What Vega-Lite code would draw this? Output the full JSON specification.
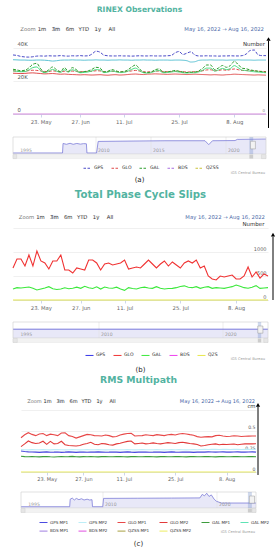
{
"$schema":"https://vega.github.io/schema/vega-lite/v6.json",
"background":"white",
"padding":{"left":10,"top":0,"right":0,"bottom":0},
"spacing":0,
"bounds":"flush",
"config":{"view":{"stroke":null},"font":"DejaVu Sans","concat":{"spacing":0},"axis":{"labelOverlap":false,"labelFlush":false}},
"resolve":{"scale":{"x":"independent","y":"independent","color":"independent","strokeDash":"independent"},"legend":{"color":"independent","strokeDash":"independent"}},
"datasets":{
"btn":[{"b":"Zoom"},{"b":"1m"},{"b":"3m"},{"b":"6m"},{"b":"YTD"},{"b":"1y"},{"b":"All"}],
"z":[{"d":"2022-05-16","v":0},{"d":"2022-08-16","v":0}],
"tkA":[{"y":1995},{"y":2010},{"y":2015},{"y":2020}],
"tkB":[{"y":1995},{"y":2010},{"y":2020}],
"navA":[{"y":1994,"v":0.06},{"y":2003.55,"v":0.06},{"y":2003.65,"v":0.62},{"y":2004.3,"v":0.57},{"y":2005,"v":0.63},{"y":2005.6,"v":0.57},{"y":2006.3,"v":0.62},{"y":2007,"v":0.58},{"y":2007.6,"v":0.61},{"y":2008.15,"v":0.6},{"y":2008.25,"v":0.06},{"y":2010.05,"v":0.06},{"y":2010.2,"v":0.74},{"y":2013,"v":0.76},{"y":2016,"v":0.78},{"y":2018.6,"v":0.78},{"y":2018.85,"v":0.55},{"y":2019.1,"v":0.78},{"y":2020.6,"v":0.79},{"y":2020.75,"v":0.86},{"y":2022.65,"v":0.88}],
"navB":[{"y":1994,"v":0.55},{"y":2022.65,"v":0.55}],
"navC":[{"y":1994,"v":0.08},{"y":2003.5,"v":0.08},{"y":2003.6,"v":0.55},{"y":2004,"v":0.62},{"y":2004.4,"v":0.5},{"y":2004.8,"v":0.6},{"y":2005.3,"v":0.52},{"y":2005.8,"v":0.58},{"y":2006.3,"v":0.5},{"y":2006.9,"v":0.55},{"y":2007.4,"v":0.5},{"y":2007.85,"v":0.52},{"y":2007.95,"v":0.08},{"y":2009.95,"v":0.08},{"y":2010.05,"v":0.6},{"y":2013,"v":0.61},{"y":2016,"v":0.62},{"y":2018.5,"v":0.63},{"y":2018.7,"v":0.85},{"y":2018.9,"v":0.76},{"y":2019.1,"v":0.92},{"y":2019.3,"v":0.72},{"y":2019.5,"v":0.82},{"y":2019.75,"v":0.55},{"y":2019.95,"v":0.42},{"y":2020.3,"v":0.31},{"y":2022.65,"v":0.31}],
"t":[
{"d":"2022-05-16","aP":35.9,"aQ":33.0,"aR":26.3,"aS":24.8,"aG":27.2,"aH":26.2,"bR":667,"bG":229,"cU":0.415,"cL":0.307,"cC":0.272,"cB":0.254,"cE":0.19},
{"d":"2022-05-17","aP":35.6,"aQ":32.9,"aR":26.0,"aS":24.7,"aG":26.8,"aH":26.0,"bR":854,"bG":257,"cU":0.45,"cL":0.34,"cC":0.27,"cB":0.248,"cE":0.186},
{"d":"2022-05-18","aP":35.0,"aQ":32.8,"aR":25.8,"aS":24.6,"aG":26.3,"aH":25.7,"bR":854,"bG":250,"cU":0.475,"cL":0.375,"cC":0.268,"cB":0.244,"cE":0.184},
{"d":"2022-05-19","aP":34.7,"aQ":32.8,"aR":26.0,"aS":24.7,"aG":26.6,"aH":25.8,"bR":708,"bG":260,"cU":0.455,"cL":0.355,"cC":0.271,"cB":0.242,"cE":0.187},
{"d":"2022-05-20","aP":34.6,"aQ":32.7,"aR":26.4,"aS":24.9,"aG":28.0,"aH":26.8,"bR":938,"bG":271,"cU":0.44,"cL":0.345,"cC":0.27,"cB":0.24,"cE":0.185},
{"d":"2022-05-21","aP":34.8,"aQ":32.7,"aR":26.6,"aS":25.0,"aG":30.2,"aH":28.2,"bR":708,"bG":243,"cU":0.46,"cL":0.35,"cC":0.269,"cB":0.238,"cE":0.183},
{"d":"2022-05-22","aP":35.2,"aQ":32.8,"aR":26.5,"aS":24.8,"aG":30.8,"aH":28.6,"bR":1021,"bG":208,"cU":0.465,"cL":0.372,"cC":0.272,"cB":0.241,"cE":0.186},
{"d":"2022-05-23","aP":35.3,"aQ":32.8,"aR":26.2,"aS":24.6,"aG":27.5,"aH":26.4,"bR":813,"bG":230,"cU":0.44,"cL":0.335,"cC":0.27,"cB":0.243,"cE":0.188},
{"d":"2022-05-24","aP":35.2,"aQ":32.7,"aR":25.9,"aS":24.4,"aG":25.5,"aH":25.1,"bR":771,"bG":250,"cU":0.458,"cL":0.37,"cC":0.268,"cB":0.239,"cE":0.184},
{"d":"2022-05-25","aP":35.4,"aQ":32.5,"aR":25.8,"aS":24.5,"aG":26.8,"aH":26.0,"bR":646,"bG":278,"cU":0.45,"cL":0.34,"cC":0.271,"cB":0.24,"cE":0.182},
{"d":"2022-05-26","aP":35.3,"aQ":32.2,"aR":26.2,"aS":24.6,"aG":28.6,"aH":27.1,"bR":813,"bG":235,"cU":0.44,"cL":0.345,"cC":0.273,"cB":0.242,"cE":0.185},
{"d":"2022-05-27","aP":35.3,"aQ":32.4,"aR":26.0,"aS":24.4,"aG":27.0,"aH":26.1,"bR":813,"bG":218,"cU":0.472,"cL":0.372,"cC":0.27,"cB":0.238,"cE":0.187},
{"d":"2022-06-19","aP":35.5,"aQ":32.7,"aR":25.7,"aS":24.2,"aG":25.8,"aH":25.3,"bR":938,"bG":230,"cU":0.475,"cL":0.33,"cC":0.268,"cB":0.24,"cE":0.184},
{"d":"2022-06-21","aP":35.3,"aQ":32.8,"aR":26.0,"aS":24.3,"aG":28.2,"aH":26.9,"bR":625,"bG":255,"cU":0.44,"cL":0.32,"cC":0.27,"cB":0.243,"cE":0.186},
{"d":"2022-06-23","aP":35.2,"aQ":32.8,"aR":25.8,"aS":24.1,"aG":26.0,"aH":25.5,"bR":625,"bG":235,"cU":0.43,"cL":0.318,"cC":0.272,"cB":0.241,"cE":0.189},
{"d":"2022-06-24","aP":35.4,"aQ":32.9,"aR":26.1,"aS":24.0,"aG":28.2,"aH":26.9,"bR":563,"bG":245,"cU":0.41,"cL":0.315,"cC":0.27,"cB":0.238,"cE":0.185},
{"d":"2022-06-25","aP":35.3,"aQ":32.8,"aR":25.9,"aS":23.9,"aG":27.0,"aH":26.1,"bR":667,"bG":268,"cU":0.425,"cL":0.32,"cC":0.268,"cB":0.24,"cE":0.183},
{"d":"2022-06-27","aP":35.5,"aQ":32.8,"aR":25.6,"aS":23.8,"aG":25.5,"aH":25.1,"bR":646,"bG":243,"cU":0.44,"cL":0.335,"cC":0.27,"cB":0.242,"cE":0.186},
{"d":"2022-06-28","aP":35.3,"aQ":32.7,"aR":25.8,"aS":23.9,"aG":25.8,"aH":25.3,"bR":625,"bG":285,"cU":0.455,"cL":0.345,"cC":0.271,"cB":0.239,"cE":0.184},
{"d":"2022-06-29","aP":35.4,"aQ":32.8,"aR":25.9,"aS":23.8,"aG":26.2,"aH":25.6,"bR":833,"bG":255,"cU":0.45,"cL":0.36,"cC":0.269,"cB":0.241,"cE":0.187},
{"d":"2022-06-30","aP":36.5,"aQ":32.8,"aR":26.0,"aS":23.7,"aG":27.2,"aH":26.2,"bR":833,"bG":240,"cU":0.44,"cL":0.335,"cC":0.27,"cB":0.24,"cE":0.185},
{"d":"2022-07-02","aP":38.2,"aQ":32.9,"aR":26.3,"aS":23.8,"aG":28.4,"aH":27.0,"bR":771,"bG":275,"cU":0.438,"cL":0.33,"cC":0.272,"cB":0.243,"cE":0.183},
{"d":"2022-07-03","aP":37.6,"aQ":32.8,"aR":26.2,"aS":23.9,"aG":28.0,"aH":26.8,"bR":625,"bG":229,"cU":0.435,"cL":0.345,"cC":0.27,"cB":0.241,"cE":0.186},
{"d":"2022-07-04","aP":35.8,"aQ":32.8,"aR":25.7,"aS":23.7,"aG":25.6,"aH":25.2,"bR":750,"bG":270,"cU":0.448,"cL":0.34,"cC":0.268,"cB":0.239,"cE":0.188},
{"d":"2022-07-06","aP":35.4,"aQ":32.7,"aR":25.8,"aS":23.6,"aG":26.0,"aH":25.5,"bR":771,"bG":250,"cU":0.44,"cL":0.33,"cC":0.27,"cB":0.24,"cE":0.185},
{"d":"2022-07-07","aP":35.3,"aQ":32.8,"aR":26.0,"aS":23.8,"aG":27.0,"aH":26.1,"bR":729,"bG":245,"cU":0.425,"cL":0.325,"cC":0.271,"cB":0.242,"cE":0.184},
{"d":"2022-07-08","aP":35.3,"aQ":32.8,"aR":25.8,"aS":23.9,"aG":26.3,"aH":25.7,"bR":750,"bG":268,"cU":0.43,"cL":0.34,"cC":0.27,"cB":0.24,"cE":0.186},
{"d":"2022-07-10","aP":35.4,"aQ":32.9,"aR":25.6,"aS":23.7,"aG":25.6,"aH":25.2,"bR":771,"bG":230,"cU":0.448,"cL":0.348,"cC":0.269,"cB":0.238,"cE":0.187},
{"d":"2022-07-11","aP":35.3,"aQ":32.8,"aR":25.7,"aS":23.8,"aG":25.8,"aH":25.3,"bR":833,"bG":201,"cU":0.458,"cL":0.36,"cC":0.27,"cB":0.241,"cE":0.185},
{"d":"2022-07-12","aP":35.3,"aQ":32.8,"aR":25.9,"aS":24.0,"aG":26.8,"aH":26.0,"bR":646,"bG":257,"cU":0.465,"cL":0.37,"cC":0.272,"cB":0.243,"cE":0.183},
{"d":"2022-07-13","aP":35.2,"aQ":32.7,"aR":26.2,"aS":24.2,"aG":28.5,"aH":27.1,"bR":667,"bG":240,"cU":0.468,"cL":0.375,"cC":0.27,"cB":0.24,"cE":0.186},
{"d":"2022-07-14","aP":35.3,"aQ":32.8,"aR":26.5,"aS":24.3,"aG":29.8,"aH":27.9,"bR":688,"bG":229,"cU":0.435,"cL":0.34,"cC":0.268,"cB":0.238,"cE":0.188},
{"d":"2022-07-15","aP":35.4,"aQ":32.8,"aR":26.1,"aS":24.1,"aG":27.5,"aH":26.4,"bR":667,"bG":255,"cU":0.438,"cL":0.345,"cC":0.27,"cB":0.24,"cE":0.185},
{"d":"2022-07-16","aP":35.3,"aQ":32.9,"aR":25.7,"aS":24.0,"aG":25.4,"aH":25.1,"bR":750,"bG":268,"cU":0.44,"cL":0.35,"cC":0.271,"cB":0.242,"cE":0.184},
{"d":"2022-07-17","aP":35.3,"aQ":32.8,"aR":25.6,"aS":24.2,"aG":25.2,"aH":24.9,"bR":833,"bG":250,"cU":0.45,"cL":0.34,"cC":0.27,"cB":0.241,"cE":0.186},
{"d":"2022-07-18","aP":35.4,"aQ":32.8,"aR":25.7,"aS":24.3,"aG":25.6,"aH":25.2,"bR":750,"bG":243,"cU":0.445,"cL":0.345,"cC":0.269,"cB":0.239,"cE":0.187},
{"d":"2022-07-19","aP":35.3,"aQ":32.7,"aR":26.0,"aS":24.4,"aG":27.0,"aH":26.1,"bR":667,"bG":278,"cU":0.44,"cL":0.352,"cC":0.27,"cB":0.24,"cE":0.185},
{"d":"2022-07-20","aP":35.3,"aQ":32.8,"aR":26.2,"aS":24.3,"aG":27.4,"aH":26.4,"bR":750,"bG":245,"cU":0.452,"cL":0.345,"cC":0.272,"cB":0.242,"cE":0.183},
{"d":"2022-07-21","aP":35.3,"aQ":32.8,"aR":25.8,"aS":24.2,"aG":25.5,"aH":25.1,"bR":813,"bG":229,"cU":0.446,"cL":0.34,"cC":0.27,"cB":0.24,"cE":0.186},
{"d":"2022-07-22","aP":35.4,"aQ":32.8,"aR":25.7,"aS":24.1,"aG":25.6,"aH":25.2,"bR":708,"bG":240,"cU":0.44,"cL":0.348,"cC":0.268,"cB":0.238,"cE":0.188},
{"d":"2022-07-23","aP":35.6,"aQ":32.7,"aR":25.8,"aS":24.2,"aG":26.0,"aH":25.5,"bR":792,"bG":243,"cU":0.45,"cL":0.355,"cC":0.27,"cB":0.241,"cE":0.185},
{"d":"2022-07-24","aP":37.2,"aQ":32.8,"aR":26.0,"aS":24.3,"aG":26.5,"aH":25.8,"bR":729,"bG":257,"cU":0.455,"cL":0.35,"cC":0.271,"cB":0.243,"cE":0.184},
{"d":"2022-07-25","aP":38.0,"aQ":32.8,"aR":25.9,"aS":24.2,"aG":26.0,"aH":25.5,"bR":667,"bG":280,"cU":0.448,"cL":0.345,"cC":0.27,"cB":0.24,"cE":0.186},
{"d":"2022-07-26","aP":36.2,"aQ":32.7,"aR":25.7,"aS":24.1,"aG":25.5,"aH":25.1,"bR":771,"bG":295,"cU":0.46,"cL":0.355,"cC":0.272,"cB":0.239,"cE":0.187},
{"d":"2022-07-27","aP":37.0,"aQ":32.4,"aR":25.5,"aS":24.0,"aG":25.2,"aH":24.9,"bR":813,"bG":265,"cU":0.465,"cL":0.36,"cC":0.27,"cB":0.241,"cE":0.185},
{"d":"2022-07-28","aP":37.8,"aQ":31.6,"aR":25.6,"aS":24.1,"aG":25.4,"aH":25.1,"bR":771,"bG":257,"cU":0.46,"cL":0.352,"cC":0.268,"cB":0.242,"cE":0.183},
{"d":"2022-07-29","aP":35.9,"aQ":31.8,"aR":25.7,"aS":24.2,"aG":25.5,"aH":25.1,"bR":833,"bG":278,"cU":0.452,"cL":0.345,"cC":0.27,"cB":0.24,"cE":0.186},
{"d":"2022-07-30","aP":35.3,"aQ":32.6,"aR":25.9,"aS":24.1,"aG":26.2,"aH":25.6,"bR":667,"bG":243,"cU":0.445,"cL":0.34,"cC":0.271,"cB":0.238,"cE":0.188},
{"d":"2022-07-31","aP":35.3,"aQ":32.8,"aR":26.3,"aS":24.0,"aG":27.8,"aH":26.6,"bR":708,"bG":265,"cU":0.428,"cL":0.332,"cC":0.27,"cB":0.24,"cE":0.185},
{"d":"2022-08-01","aP":35.4,"aQ":32.8,"aR":26.8,"aS":23.9,"aG":29.8,"aH":27.9,"bR":500,"bG":278,"cU":0.42,"cL":0.315,"cC":0.272,"cB":0.242,"cE":0.184},
{"d":"2022-08-02","aP":35.3,"aQ":32.9,"aR":26.9,"aS":23.8,"aG":29.8,"aH":27.9,"bR":438,"bG":243,"cU":0.425,"cL":0.32,"cC":0.274,"cB":0.241,"cE":0.186},
{"d":"2022-08-03","aP":35.3,"aQ":32.8,"aR":26.3,"aS":23.9,"aG":27.0,"aH":26.1,"bR":417,"bG":257,"cU":0.428,"cL":0.33,"cC":0.273,"cB":0.243,"cE":0.187},
{"d":"2022-08-04","aP":35.2,"aQ":32.8,"aR":26.5,"aS":23.8,"aG":28.0,"aH":26.8,"bR":500,"bG":250,"cU":0.425,"cL":0.335,"cC":0.275,"cB":0.242,"cE":0.185},
{"d":"2022-08-05","aP":35.3,"aQ":32.8,"aR":26.9,"aS":23.7,"aG":29.5,"aH":27.7,"bR":479,"bG":243,"cU":0.44,"cL":0.34,"cC":0.274,"cB":0.24,"cE":0.183},
{"d":"2022-08-06","aP":35.3,"aQ":32.7,"aR":26.6,"aS":23.9,"aG":28.4,"aH":27.0,"bR":500,"bG":260,"cU":0.445,"cL":0.33,"cC":0.273,"cB":0.242,"cE":0.186},
{"d":"2022-08-07","aP":35.4,"aQ":32.8,"aR":27.0,"aS":24.0,"aG":29.5,"aH":27.7,"bR":521,"bG":278,"cU":0.435,"cL":0.335,"cC":0.275,"cB":0.243,"cE":0.188},
{"d":"2022-08-08","aP":35.3,"aQ":32.8,"aR":27.4,"aS":24.2,"aG":32.0,"aH":29.4,"bR":438,"bG":312,"cU":0.43,"cL":0.332,"cC":0.274,"cB":0.241,"cE":0.185},
{"d":"2022-08-09","aP":35.3,"aQ":32.9,"aR":26.9,"aS":24.1,"aG":30.0,"aH":28.1,"bR":438,"bG":285,"cU":0.432,"cL":0.335,"cC":0.273,"cB":0.24,"cE":0.184},
{"d":"2022-08-10","aP":35.5,"aQ":32.8,"aR":26.5,"aS":24.0,"aG":27.8,"aH":26.6,"bR":500,"bG":257,"cU":0.438,"cL":0.338,"cC":0.275,"cB":0.242,"cE":0.186},
{"d":"2022-08-11","aP":36.5,"aQ":32.8,"aR":26.4,"aS":23.9,"aG":27.5,"aH":26.4,"bR":688,"bG":245,"cU":0.435,"cL":0.33,"cC":0.274,"cB":0.243,"cE":0.187},
{"d":"2022-08-12","aP":38.6,"aQ":32.8,"aR":26.3,"aS":23.8,"aG":26.8,"aH":26.0,"bR":479,"bG":265,"cU":0.43,"cL":0.335,"cC":0.273,"cB":0.241,"cE":0.185},
{"d":"2022-08-13","aP":38.9,"aQ":32.7,"aR":26.2,"aS":23.7,"aG":26.4,"aH":25.7,"bR":583,"bG":299,"cU":0.432,"cL":0.34,"cC":0.275,"cB":0.24,"cE":0.184},
{"d":"2022-08-14","aP":36.0,"aQ":32.8,"aR":26.0,"aS":23.8,"aG":26.0,"aH":25.5,"bR":458,"bG":243,"cU":0.434,"cL":0.342,"cC":0.274,"cB":0.242,"cE":0.186},
{"d":"2022-08-15","aP":35.5,"aQ":32.8,"aR":25.9,"aS":23.7,"aG":25.7,"aH":25.3,"bR":542,"bG":250,"cU":0.436,"cL":0.34,"cC":0.273,"cB":0.243,"cE":0.187},
{"d":"2022-08-16","aP":35.5,"aQ":32.8,"aR":25.8,"aS":23.6,"aG":25.5,"aH":25.1,"bR":500,"bG":257,"cU":0.435,"cL":0.342,"cC":0.275,"cB":0.241,"cE":0.185}
]},
"vconcat":[
{"width":253,"height":40,"layer":[
 {"data":{"values":[{"t":"RINEX Observations"}]},"mark":{"type":"text","fontSize":7.6,"fontWeight":"bold","color":"#52b3a1","dy":-10},"encoding":{"text":{"field":"t"}}},
 {"data":{"name":"btn"},"transform":[{"filter":"datum.b != 'Zoom'"}],"mark":{"type":"point","shape":"M-0.65,-0.42L0.65,-0.42L0.65,0.42L-0.65,0.42Z","size":100,"filled":true,"opacity":1,"yOffset":9},"encoding":{"x":{"field":"b","type":"nominal","scale":{"type":"point","domain":["Zoom","1m","3m","6m","YTD","1y","All"],"range":[8,105.8]},"axis":null},"color":{"condition":{"test":"datum.b == '3m'","value":"#e6ebf5"},"value":"#f7f7f7"}}},
 {"data":{"name":"btn"},"mark":{"type":"text","fontSize":5.3,"dy":9},"encoding":{"x":{"field":"b","type":"nominal","scale":{"type":"point","domain":["Zoom","1m","3m","6m","YTD","1y","All"],"range":[8,105.8]},"axis":null},"text":{"field":"b"},"color":{"condition":{"test":"datum.b == 'Zoom'","value":"#777777"},"value":"#333333"}}},
 {"data":{"values":[{"t":"May 16, 2022  →  Aug 16, 2022"}]},"mark":{"type":"text","x":"width","dx":-2,"align":"right","fontSize":5.3,"color":"#4a69a8","dy":9},"encoding":{"text":{"field":"t"}}}
]},
{"width":253,"height":74,"resolve":{"scale":{"y":"independent"}},"layer":[
 {"data":{"name":"t"},"transform":[{"fold":["aQ","aP","aS","aR","aH","aG"],"as":["k","v"]}],"mark":{"type":"line","strokeWidth":1,"interpolate":"monotone"},"encoding":{
  "x":{"field":"d","type":"ordinal","scale":{"type":"point","padding":0},"axis":{"values":["2022-05-23","2022-06-27","2022-07-11","2022-07-25","2022-08-08"],"labelExpr":"utcFormat(toDate(datum.value), '%-d. %b')","title":null,"labelAngle":0,"labelFontSize":5.3,"labelColor":"#666","labelPadding":2,"tickSize":3,"tickColor":"#ccd6eb","domainColor":"#ccd6eb","domainWidth":0.6,"grid":false}},
  "y":{"field":"v","type":"quantitative","scale":{"domain":[0,45],"nice":false},"axis":{"values":[0,20,40],"labelExpr":"datum.value == 0 ? '0' : datum.value + 'K'","grid":true,"gridColor":"#e6e6e6","gridWidth":0.6,"domain":false,"ticks":false,"tickSize":0,"labelAlign":"left","labelBaseline":"bottom","labelPadding":-4,"labelOffset":-2,"labelFontSize":5.3,"labelColor":"#555","labelOverlap":false,"title":null}},
  "color":{"field":"k","type":"nominal","scale":{"domain":["aP","aQ","aR","aS","aG","aH","BDS"],"range":["#4b4bc8","#5ac2d4","#e04a4a","#e04a4a","#2e9e2e","#40de7c","#d58bdb"]},"legend":null},
  "strokeDash":{"field":"k","type":"nominal","scale":{"domain":["aP","aQ","aR","aS","aG","aH"],"range":[[3,1.5],[1,0],[3,1.5],[1,0],[3,1.5],[1,0]]},"legend":null}}},
 {"data":{"name":"z"},"mark":{"type":"line","strokeWidth":1.2},"encoding":{"x":{"field":"d","type":"ordinal","scale":{"type":"point","padding":0}},"y":{"field":"v","type":"quantitative","scale":{"domain":[0,45],"nice":false},"axis":null},"color":{"datum":"BDS"}}},
 {"data":{"values":[{"t":"Number"}]},"mark":{"type":"text","x":"width","dx":-1,"dy":2,"align":"right","baseline":"top","fontSize":5.5,"color":"#333"},"encoding":{"y":{"datum":45,"type":"quantitative","scale":{"domain":[0,45],"nice":false},"axis":null},"text":{"field":"t"}}},
 {"data":{"values":[{"t":"0"}]},"mark":{"type":"text","x":"width","dx":-1,"dy":-1.5,"align":"right","baseline":"bottom","fontSize":4,"color":"#888"},"encoding":{"y":{"datum":0,"type":"quantitative","scale":{"domain":[0,45],"nice":false},"axis":null},"text":{"field":"t"}}},
 {"data":{"values":[{}]},"mark":{"type":"rule","x":"width","xOffset":2.5,"color":"#000","strokeWidth":1,"clip":false},"encoding":{"y":{"datum":44.5,"type":"quantitative","scale":{"domain":[0,45],"nice":false},"axis":null},"y2":{"datum":-8.5}}},
 {"data":{"values":[{}]},"mark":{"type":"point","shape":"triangle-up","x":"width","xOffset":2.5,"yOffset":-1,"size":18,"filled":true,"color":"#000","opacity":1,"clip":false},"encoding":{"y":{"datum":45,"type":"quantitative","scale":{"domain":[0,45],"nice":false},"axis":null}}}
]},
{"width":253,"height":45,"layer":[
 {"data":{"name":"navA"},"mark":{"type":"area","color":"#e8e8f8","opacity":1},"encoding":{"x":{"field":"y","type":"quantitative","scale":{"type":"linear","domain":[1994,2010,2015,2020,2022.65],"range":[0,83,138,213,253],"nice":false,"zero":false},"axis":null},"y":{"field":"v","type":"quantitative","scale":{"domain":[-0.294,2.353],"nice":false,"zero":false},"axis":null},"y2":{"datum":0}}},
 {"data":{"name":"tkA"},"transform":[{"filter":"datum.y > 2000"}],"mark":{"type":"rule","color":"#e0e0e0","strokeWidth":0.6},"encoding":{"x":{"field":"y","type":"quantitative","scale":{"type":"linear","domain":[1994,2010,2015,2020,2022.65],"range":[0,83,138,213,253],"nice":false,"zero":false},"axis":null},"y":{"datum":0,"type":"quantitative","scale":{"domain":[-0.294,2.353],"nice":false,"zero":false},"axis":null},"y2":{"datum":1}}},
 {"data":{"name":"navA"},"mark":{"type":"line","color":"#7c7cd8","strokeWidth":0.8},"encoding":{"x":{"field":"y","type":"quantitative","scale":{"type":"linear","domain":[1994,2010,2015,2020,2022.65],"range":[0,83,138,213,253],"nice":false,"zero":false},"axis":null},"y":{"field":"v","type":"quantitative","scale":{"domain":[-0.294,2.353],"nice":false,"zero":false},"axis":null}}},
 {"data":{"name":"tkA"},"mark":{"type":"text","align":"left","baseline":"bottom","dx":2,"dy":-1.5,"fontSize":4.6,"color":"#999"},"encoding":{"x":{"field":"y","type":"quantitative","scale":{"type":"linear","domain":[1994,2010,2015,2020,2022.65],"range":[0,83,138,213,253],"nice":false,"zero":false},"axis":null},"y":{"datum":0,"type":"quantitative","scale":{"domain":[-0.294,2.353],"nice":false,"zero":false},"axis":null},"text":{"field":"y","type":"quantitative","format":"d"}}},
 {"data":{"values":[{}]},"mark":{"type":"rect","fill":"transparent","stroke":"#cccccc","strokeWidth":0.6},"encoding":{"x":{"datum":1994,"type":"quantitative","scale":{"type":"linear","domain":[1994,2010,2015,2020,2022.65],"range":[0,83,138,213,253],"nice":false,"zero":false},"axis":null},"x2":{"datum":2022.65},"y":{"datum":0,"type":"quantitative","scale":{"domain":[-0.294,2.353],"nice":false,"zero":false},"axis":null},"y2":{"datum":1}}},
 {"data":{"values":[{}]},"mark":{"type":"rect","color":"#6685c2","opacity":0.3},"encoding":{"x":{"datum":2021.55,"type":"quantitative","scale":{"type":"linear","domain":[1994,2010,2015,2020,2022.65],"range":[0,83,138,213,253],"nice":false,"zero":false},"axis":null},"x2":{"datum":2021.8},"y":{"datum":0,"type":"quantitative","scale":{"domain":[-0.294,2.353],"nice":false,"zero":false},"axis":null},"y2":{"datum":1}}},
 {"data":{"values":[{}]},"mark":{"type":"rect","fill":"#f2f2f2","stroke":"#e6e6e6","strokeWidth":0.5},"encoding":{"x":{"datum":1994,"type":"quantitative","scale":{"type":"linear","domain":[1994,2010,2015,2020,2022.65],"range":[0,83,138,213,253],"nice":false,"zero":false},"axis":null},"x2":{"datum":2022.65},"y":{"datum":-0.27,"type":"quantitative","scale":{"domain":[-0.294,2.353],"nice":false,"zero":false},"axis":null},"y2":{"datum":-0.03}}},
 {"data":{"values":[{}]},"mark":{"type":"rect","fill":"#cccccc"},"encoding":{"x":{"datum":2021.55,"type":"quantitative","scale":{"type":"linear","domain":[1994,2010,2015,2020,2022.65],"range":[0,83,138,213,253],"nice":false,"zero":false},"axis":null},"x2":{"datum":2021.8},"y":{"datum":-0.27,"type":"quantitative","scale":{"domain":[-0.294,2.353],"nice":false,"zero":false},"axis":null},"y2":{"datum":-0.03}}},
 {"data":{"values":[{}]},"mark":{"type":"rect","fill":"#e6e6e6","stroke":"#cccccc","strokeWidth":0.4},"encoding":{"x":{"datum":1994,"type":"quantitative","scale":{"type":"linear","domain":[1994,2010,2015,2020,2022.65],"range":[0,83,138,213,253],"nice":false,"zero":false},"axis":null},"x2":{"datum":1994.7},"y":{"datum":-0.27,"type":"quantitative","scale":{"domain":[-0.294,2.353],"nice":false,"zero":false},"axis":null},"y2":{"datum":-0.03}}},
 {"data":{"values":[{}]},"mark":{"type":"rect","fill":"#e6e6e6","stroke":"#cccccc","strokeWidth":0.4},"encoding":{"x":{"datum":2022.35,"type":"quantitative","scale":{"type":"linear","domain":[1994,2010,2015,2020,2022.65],"range":[0,83,138,213,253],"nice":false,"zero":false},"axis":null},"x2":{"datum":2022.65},"y":{"datum":-0.27,"type":"quantitative","scale":{"domain":[-0.294,2.353],"nice":false,"zero":false},"axis":null},"y2":{"datum":-0.03}}},
 {"data":{"values":[{}]},"mark":{"type":"rect","fill":"#f2f2f2","stroke":"#999999","strokeWidth":0.5},"encoding":{"x":{"datum":2021.62,"type":"quantitative","scale":{"type":"linear","domain":[1994,2010,2015,2020,2022.65],"range":[0,83,138,213,253],"nice":false,"zero":false},"axis":null},"x2":{"datum":2021.95},"y":{"datum":0.3,"type":"quantitative","scale":{"domain":[-0.294,2.353],"nice":false,"zero":false},"axis":null},"y2":{"datum":0.75}}}
]},
{"width":253,"height":27,"layer":[
 {"data":{"values":[]},"mark":{"type":"line","strokeDash":[2.5,1.5]},"encoding":{"color":{"field":"k","type":"nominal","scale":{"domain":["GPS","GLO","GAL","BDS","QZSS"],"range":["#4b4bc8","#e04a4a","#2e9e2e","#a86ee0","#c9c23a"]},"legend":{"orient":"none","legendX":70,"legendY":4.5,"direction":"horizontal","title":null,"symbolType":"stroke","symbolSize":64,"symbolStrokeWidth":1,"symbolDash":[2.5,1.5],"labelFontSize":4.6,"labelColor":"#333","labelOffset":2,"columnPadding":5,"padding":0}}}},
 {"data":{"values":[{"t":"IGS Central Bureau"}]},"mark":{"type":"text","x":"width","dx":-1,"align":"right","fontSize":3.6,"color":"#9a9a9a"},"encoding":{"text":{"field":"t"}}},
 {"data":{"values":[{"t":"(a)"}]},"mark":{"type":"text","fontSize":7,"color":"#222","dy":7.5},"encoding":{"text":{"field":"t"}}}
]},
{"width":255,"height":42,"layer":[
 {"data":{"values":[{"t":"Total Phase Cycle Slips"}]},"mark":{"type":"text","fontSize":10.2,"fontWeight":"bold","color":"#52b3a1","dy":-12},"encoding":{"text":{"field":"t"}}},
 {"data":{"name":"btn"},"transform":[{"filter":"datum.b != 'Zoom'"}],"mark":{"type":"point","shape":"M-0.65,-0.42L0.65,-0.42L0.65,0.42L-0.65,0.42Z","size":100,"filled":true,"opacity":1,"yOffset":10},"encoding":{"x":{"field":"b","type":"nominal","scale":{"type":"point","domain":["Zoom","1m","3m","6m","YTD","1y","All"],"range":[6.5,104]},"axis":null},"color":{"condition":{"test":"datum.b == '3m'","value":"#e6ebf5"},"value":"#f7f7f7"}}},
 {"data":{"name":"btn"},"mark":{"type":"text","fontSize":5.3,"dy":10},"encoding":{"x":{"field":"b","type":"nominal","scale":{"type":"point","domain":["Zoom","1m","3m","6m","YTD","1y","All"],"range":[6.5,104]},"axis":null},"text":{"field":"b"},"color":{"condition":{"test":"datum.b == 'Zoom'","value":"#777777"},"value":"#333333"}}},
 {"data":{"values":[{"t":"May 16, 2022  →  Aug 16, 2022"}]},"mark":{"type":"text","x":"width","dx":-3,"align":"right","fontSize":5.3,"color":"#4a69a8","dy":10},"encoding":{"text":{"field":"t"}}}
]},
{"width":255,"height":72,"resolve":{"scale":{"y":"independent"}},"layer":[
 {"data":{"name":"t"},"transform":[{"fold":["bG","bR"],"as":["k","v"]}],"mark":{"type":"line","strokeWidth":1.1},"encoding":{
  "x":{"field":"d","type":"ordinal","scale":{"type":"point","padding":0},"axis":{"values":["2022-05-23","2022-06-27","2022-07-11","2022-07-25","2022-08-08"],"labelExpr":"utcFormat(toDate(datum.value), '%-d. %b')","title":null,"labelAngle":0,"labelFontSize":5.3,"labelColor":"#666","labelPadding":2,"tickSize":3,"tickColor":"#ccd6eb","domainColor":"#ccd6eb","domainWidth":0.6,"grid":false}},
  "y":{"field":"v","type":"quantitative","scale":{"domain":[0,1500],"nice":false},"axis":{"orient":"right","values":[0,500,1000,1500],"labelExpr":"datum.value == 1500 ? '' : '' + datum.value","grid":true,"gridColor":"#e6e6e6","gridWidth":0.6,"domain":false,"ticks":false,"tickSize":0,"labelAlign":"right","labelBaseline":"bottom","labelPadding":-2,"labelOffset":-1,"labelFontSize":5,"labelColor":"#666","labelOverlap":false,"title":"Number","titleAngle":0,"titleAlign":"right","titleBaseline":"bottom","titleX":-4,"titleY":-2,"titleFontSize":5.5,"titleFontWeight":"normal","titleColor":"#333"}},
  "color":{"field":"k","type":"nominal","scale":{"domain":["bR","bG","QZS"],"range":["#f03232","#3be83b","#e8e84a"]},"legend":null}}},
 {"data":{"name":"z"},"mark":{"type":"line","strokeWidth":1.2},"encoding":{"x":{"field":"d","type":"ordinal","scale":{"type":"point","padding":0}},"y":{"field":"v","type":"quantitative","scale":{"domain":[0,1500],"nice":false},"axis":null},"color":{"datum":"QZS"}}},
 {"data":{"values":[{}]},"mark":{"type":"rule","x":"width","xOffset":5,"color":"#000","strokeWidth":1,"clip":false},"encoding":{"y":{"datum":1320,"type":"quantitative","scale":{"domain":[0,1500],"nice":false},"axis":null},"y2":{"datum":0}}},
 {"data":{"values":[{}]},"mark":{"type":"point","shape":"triangle-up","x":"width","xOffset":5,"yOffset":-1,"size":18,"filled":true,"color":"#000","opacity":1,"clip":false},"encoding":{"y":{"datum":1340,"type":"quantitative","scale":{"domain":[0,1500],"nice":false},"axis":null}}}
]},
{"width":255,"height":43,"layer":[
 {"data":{"name":"navB"},"mark":{"type":"area","color":"#e8e8f8","opacity":1},"encoding":{"x":{"field":"y","type":"quantitative","scale":{"type":"linear","domain":[1994,2010,2020,2022.65],"range":[0,86,210,255],"nice":false,"zero":false},"axis":null},"y":{"field":"v","type":"quantitative","scale":{"domain":[-0.3125,2.375],"nice":false,"zero":false},"axis":null},"y2":{"datum":0}}},
 {"data":{"name":"tkB"},"transform":[{"filter":"datum.y > 2000"}],"mark":{"type":"rule","color":"#e0e0e0","strokeWidth":0.6},"encoding":{"x":{"field":"y","type":"quantitative","scale":{"type":"linear","domain":[1994,2010,2020,2022.65],"range":[0,86,210,255],"nice":false,"zero":false},"axis":null},"y":{"datum":0,"type":"quantitative","scale":{"domain":[-0.3125,2.375],"nice":false,"zero":false},"axis":null},"y2":{"datum":1}}},
 {"data":{"name":"navB"},"mark":{"type":"line","color":"#6a6ad8","strokeWidth":0.9},"encoding":{"x":{"field":"y","type":"quantitative","scale":{"type":"linear","domain":[1994,2010,2020,2022.65],"range":[0,86,210,255],"nice":false,"zero":false},"axis":null},"y":{"field":"v","type":"quantitative","scale":{"domain":[-0.3125,2.375],"nice":false,"zero":false},"axis":null}}},
 {"data":{"name":"tkB"},"mark":{"type":"text","align":"left","baseline":"bottom","dx":2,"dy":-1.5,"fontSize":4.6,"color":"#999"},"encoding":{"x":{"field":"y","type":"quantitative","scale":{"type":"linear","domain":[1994,2010,2020,2022.65],"range":[0,86,210,255],"nice":false,"zero":false},"axis":null},"y":{"datum":0,"type":"quantitative","scale":{"domain":[-0.3125,2.375],"nice":false,"zero":false},"axis":null},"text":{"field":"y","type":"quantitative","format":"d"}}},
 {"data":{"values":[{}]},"mark":{"type":"rect","fill":"transparent","stroke":"#cccccc","strokeWidth":0.6},"encoding":{"x":{"datum":1994,"type":"quantitative","scale":{"type":"linear","domain":[1994,2010,2020,2022.65],"range":[0,86,210,255],"nice":false,"zero":false},"axis":null},"x2":{"datum":2022.65},"y":{"datum":0,"type":"quantitative","scale":{"domain":[-0.3125,2.375],"nice":false,"zero":false},"axis":null},"y2":{"datum":1}}},
 {"data":{"values":[{}]},"mark":{"type":"rect","color":"#6685c2","opacity":0.3},"encoding":{"x":{"datum":2022.05,"type":"quantitative","scale":{"type":"linear","domain":[1994,2010,2020,2022.65],"range":[0,86,210,255],"nice":false,"zero":false},"axis":null},"x2":{"datum":2022.25},"y":{"datum":0,"type":"quantitative","scale":{"domain":[-0.3125,2.375],"nice":false,"zero":false},"axis":null},"y2":{"datum":1}}},
 {"data":{"values":[{}]},"mark":{"type":"rect","fill":"#f2f2f2","stroke":"#e6e6e6","strokeWidth":0.5},"encoding":{"x":{"datum":1994,"type":"quantitative","scale":{"type":"linear","domain":[1994,2010,2020,2022.65],"range":[0,86,210,255],"nice":false,"zero":false},"axis":null},"x2":{"datum":2022.65},"y":{"datum":-0.28,"type":"quantitative","scale":{"domain":[-0.3125,2.375],"nice":false,"zero":false},"axis":null},"y2":{"datum":-0.03}}},
 {"data":{"values":[{}]},"mark":{"type":"rect","fill":"#cccccc"},"encoding":{"x":{"datum":2022.05,"type":"quantitative","scale":{"type":"linear","domain":[1994,2010,2020,2022.65],"range":[0,86,210,255],"nice":false,"zero":false},"axis":null},"x2":{"datum":2022.25},"y":{"datum":-0.28,"type":"quantitative","scale":{"domain":[-0.3125,2.375],"nice":false,"zero":false},"axis":null},"y2":{"datum":-0.03}}},
 {"data":{"values":[{}]},"mark":{"type":"rect","fill":"#e6e6e6","stroke":"#cccccc","strokeWidth":0.4},"encoding":{"x":{"datum":1994,"type":"quantitative","scale":{"type":"linear","domain":[1994,2010,2020,2022.65],"range":[0,86,210,255],"nice":false,"zero":false},"axis":null},"x2":{"datum":1994.8},"y":{"datum":-0.28,"type":"quantitative","scale":{"domain":[-0.3125,2.375],"nice":false,"zero":false},"axis":null},"y2":{"datum":-0.03}}},
 {"data":{"values":[{}]},"mark":{"type":"rect","fill":"#e6e6e6","stroke":"#cccccc","strokeWidth":0.4},"encoding":{"x":{"datum":2022.4,"type":"quantitative","scale":{"type":"linear","domain":[1994,2010,2020,2022.65],"range":[0,86,210,255],"nice":false,"zero":false},"axis":null},"x2":{"datum":2022.65},"y":{"datum":-0.28,"type":"quantitative","scale":{"domain":[-0.3125,2.375],"nice":false,"zero":false},"axis":null},"y2":{"datum":-0.03}}},
 {"data":{"values":[{}]},"mark":{"type":"rect","fill":"#f2f2f2","stroke":"#999999","strokeWidth":0.5},"encoding":{"x":{"datum":2022.05,"type":"quantitative","scale":{"type":"linear","domain":[1994,2010,2020,2022.65],"range":[0,86,210,255],"nice":false,"zero":false},"axis":null},"x2":{"datum":2022.35},"y":{"datum":0.3,"type":"quantitative","scale":{"domain":[-0.3125,2.375],"nice":false,"zero":false},"axis":null},"y2":{"datum":0.75}}}
]},
{"width":255,"height":30,"layer":[
 {"data":{"values":[]},"mark":{"type":"line"},"encoding":{"color":{"field":"k","type":"nominal","scale":{"domain":["GPS","GLO","GAL","BDS","QZS"],"range":["#3535e8","#f03232","#3be83b","#ee40ee","#e8e84a"]},"legend":{"orient":"none","legendX":72,"legendY":7.7,"direction":"horizontal","title":null,"symbolType":"stroke","symbolSize":64,"symbolStrokeWidth":1,"labelFontSize":4.6,"labelColor":"#333","labelOffset":2,"columnPadding":5,"padding":0}}}},
 {"data":{"values":[{"t":"IGS Central Bureau"}]},"mark":{"type":"text","x":"width","dx":-3,"dy":1,"align":"right","fontSize":3.6,"color":"#9a9a9a"},"encoding":{"text":{"field":"t"}}},
 {"data":{"values":[{"t":"(b)"}]},"mark":{"type":"text","fontSize":7,"color":"#222","dy":11.5},"encoding":{"text":{"field":"t"}}}
]},
{"hconcat":[
 {"width":8,"height":1,"data":{"values":[]},"mark":"point"},
 {"vconcat":[
  {"width":235,"height":37,"layer":[
   {"data":{"values":[{"t":"RMS Multipath"}]},"mark":{"type":"text","fontSize":9.3,"fontWeight":"bold","color":"#52b3a1","dy":-11.5},"encoding":{"text":{"field":"t"}}},
   {"data":{"name":"btn"},"transform":[{"filter":"datum.b != 'Zoom'"}],"mark":{"type":"point","shape":"M-0.65,-0.42L0.65,-0.42L0.65,0.42L-0.65,0.42Z","size":90,"filled":true,"opacity":1,"yOffset":9.5},"encoding":{"x":{"field":"b","type":"nominal","scale":{"type":"point","domain":["Zoom","1m","3m","6m","YTD","1y","All"],"range":[7,98]},"axis":null},"color":{"condition":{"test":"datum.b == '3m'","value":"#e6ebf5"},"value":"#f7f7f7"}}},
   {"data":{"name":"btn"},"mark":{"type":"text","fontSize":5,"dy":9.5},"encoding":{"x":{"field":"b","type":"nominal","scale":{"type":"point","domain":["Zoom","1m","3m","6m","YTD","1y","All"],"range":[7,98]},"axis":null},"text":{"field":"b"},"color":{"condition":{"test":"datum.b == 'Zoom'","value":"#777777"},"value":"#333333"}}},
   {"data":{"values":[{"t":"May 16, 2022  →  Aug 16, 2022"}]},"mark":{"type":"text","x":"width","dx":-1,"align":"right","fontSize":5,"color":"#4a69a8","dy":9.5},"encoding":{"text":{"field":"t"}}}
  ]},
  {"width":235,"height":62,"resolve":{"scale":{"y":"independent"}},"layer":[
   {"data":{"name":"t"},"transform":[{"fold":["cE","cB","cC","cL","cU"],"as":["k","v"]}],"mark":{"type":"line","strokeWidth":1.1},"encoding":{
    "x":{"field":"d","type":"ordinal","scale":{"type":"point","padding":0},"axis":{"values":["2022-05-23","2022-06-27","2022-07-11","2022-07-25","2022-08-08"],"labelExpr":"utcFormat(toDate(datum.value), '%-d. %b')","title":null,"labelAngle":0,"labelFontSize":5,"labelColor":"#666","labelPadding":1.5,"tickSize":3,"tickColor":"#ccd6eb","domainColor":"#ccd6eb","domainWidth":0.6,"grid":false}},
    "y":{"field":"v","type":"quantitative","scale":{"domain":[0,0.75],"nice":false},"axis":{"orient":"right","values":[0,0.25,0.5,0.75],"labelExpr":"datum.value == 0.75 ? '' : '' + datum.value","grid":true,"gridColor":"#e6e6e6","gridWidth":0.6,"domain":false,"ticks":false,"tickSize":0,"labelAlign":"right","labelBaseline":"bottom","labelPadding":-1,"labelOffset":-1,"labelFontSize":4.6,"labelColor":"#666","labelOverlap":false,"title":"cm","titleAngle":0,"titleAlign":"right","titleBaseline":"bottom","titleX":-1,"titleY":-1.5,"titleFontSize":5.3,"titleFontWeight":"normal","titleColor":"#333"}},
    "color":{"field":"k","type":"nominal","scale":{"domain":["cU","cL","cC","cB","cE","Z"],"range":["#e84848","#e23a3a","#bdeef7","#4b4be0","#3c9c3c","#ecec60"]},"legend":null}}},
   {"data":{"name":"z"},"mark":{"type":"line","strokeWidth":1.2},"encoding":{"x":{"field":"d","type":"ordinal","scale":{"type":"point","padding":0}},"y":{"field":"v","type":"quantitative","scale":{"domain":[0,0.75],"nice":false},"axis":null},"color":{"datum":"Z"}}},
   {"data":{"values":[{}]},"mark":{"type":"rule","x":"width","xOffset":2,"color":"#000","strokeWidth":1,"clip":false},"encoding":{"y":{"datum":0.79,"type":"quantitative","scale":{"domain":[0,0.75],"nice":false},"axis":null},"y2":{"datum":-0.036}}},
   {"data":{"values":[{}]},"mark":{"type":"point","shape":"triangle-up","x":"width","xOffset":2,"yOffset":-1,"size":18,"filled":true,"color":"#000","opacity":1,"clip":false},"encoding":{"y":{"datum":0.8,"type":"quantitative","scale":{"domain":[0,0.75],"nice":false},"axis":null}}}
  ]},
  {"width":235,"height":41,"layer":[
   {"data":{"name":"navC"},"mark":{"type":"area","color":"#e8e8f8","opacity":1},"encoding":{"x":{"field":"y","type":"quantitative","scale":{"type":"linear","domain":[1994,2010,2020,2022.65],"range":[0,82,196,235],"nice":false,"zero":false},"axis":null},"y":{"field":"v","type":"quantitative","scale":{"domain":[-0.3125,2.25],"nice":false,"zero":false},"axis":null},"y2":{"datum":0}}},
   {"data":{"name":"tkB"},"transform":[{"filter":"datum.y > 2000"}],"mark":{"type":"rule","color":"#e0e0e0","strokeWidth":0.6},"encoding":{"x":{"field":"y","type":"quantitative","scale":{"type":"linear","domain":[1994,2010,2020,2022.65],"range":[0,82,196,235],"nice":false,"zero":false},"axis":null},"y":{"datum":0,"type":"quantitative","scale":{"domain":[-0.3125,2.25],"nice":false,"zero":false},"axis":null},"y2":{"datum":1}}},
   {"data":{"name":"navC"},"mark":{"type":"line","color":"#7c7cd8","strokeWidth":0.8},"encoding":{"x":{"field":"y","type":"quantitative","scale":{"type":"linear","domain":[1994,2010,2020,2022.65],"range":[0,82,196,235],"nice":false,"zero":false},"axis":null},"y":{"field":"v","type":"quantitative","scale":{"domain":[-0.3125,2.25],"nice":false,"zero":false},"axis":null}}},
   {"data":{"name":"tkB"},"mark":{"type":"text","align":"left","baseline":"bottom","dx":2,"dy":-1.5,"fontSize":4.6,"color":"#999"},"encoding":{"x":{"field":"y","type":"quantitative","scale":{"type":"linear","domain":[1994,2010,2020,2022.65],"range":[0,82,196,235],"nice":false,"zero":false},"axis":null},"y":{"datum":0,"type":"quantitative","scale":{"domain":[-0.3125,2.25],"nice":false,"zero":false},"axis":null},"text":{"field":"y","type":"quantitative","format":"d"}}},
   {"data":{"values":[{}]},"mark":{"type":"rect","fill":"transparent","stroke":"#cccccc","strokeWidth":0.6},"encoding":{"x":{"datum":1994,"type":"quantitative","scale":{"type":"linear","domain":[1994,2010,2020,2022.65],"range":[0,82,196,235],"nice":false,"zero":false},"axis":null},"x2":{"datum":2022.65},"y":{"datum":0,"type":"quantitative","scale":{"domain":[-0.3125,2.25],"nice":false,"zero":false},"axis":null},"y2":{"datum":1}}},
   {"data":{"values":[{}]},"mark":{"type":"rect","color":"#6685c2","opacity":0.3},"encoding":{"x":{"datum":2022.1,"type":"quantitative","scale":{"type":"linear","domain":[1994,2010,2020,2022.65],"range":[0,82,196,235],"nice":false,"zero":false},"axis":null},"x2":{"datum":2022.37},"y":{"datum":0,"type":"quantitative","scale":{"domain":[-0.3125,2.25],"nice":false,"zero":false},"axis":null},"y2":{"datum":1}}},
   {"data":{"values":[{}]},"mark":{"type":"rect","fill":"#f2f2f2","stroke":"#e6e6e6","strokeWidth":0.5},"encoding":{"x":{"datum":1994,"type":"quantitative","scale":{"type":"linear","domain":[1994,2010,2020,2022.65],"range":[0,82,196,235],"nice":false,"zero":false},"axis":null},"x2":{"datum":2022.65},"y":{"datum":-0.28,"type":"quantitative","scale":{"domain":[-0.3125,2.25],"nice":false,"zero":false},"axis":null},"y2":{"datum":-0.03}}},
   {"data":{"values":[{}]},"mark":{"type":"rect","fill":"#cccccc"},"encoding":{"x":{"datum":2022.1,"type":"quantitative","scale":{"type":"linear","domain":[1994,2010,2020,2022.65],"range":[0,82,196,235],"nice":false,"zero":false},"axis":null},"x2":{"datum":2022.37},"y":{"datum":-0.28,"type":"quantitative","scale":{"domain":[-0.3125,2.25],"nice":false,"zero":false},"axis":null},"y2":{"datum":-0.03}}},
   {"data":{"values":[{}]},"mark":{"type":"rect","fill":"#e6e6e6","stroke":"#cccccc","strokeWidth":0.4},"encoding":{"x":{"datum":1994,"type":"quantitative","scale":{"type":"linear","domain":[1994,2010,2020,2022.65],"range":[0,82,196,235],"nice":false,"zero":false},"axis":null},"x2":{"datum":1994.8},"y":{"datum":-0.28,"type":"quantitative","scale":{"domain":[-0.3125,2.25],"nice":false,"zero":false},"axis":null},"y2":{"datum":-0.03}}},
   {"data":{"values":[{}]},"mark":{"type":"rect","fill":"#e6e6e6","stroke":"#cccccc","strokeWidth":0.4},"encoding":{"x":{"datum":2022.38,"type":"quantitative","scale":{"type":"linear","domain":[1994,2010,2020,2022.65],"range":[0,82,196,235],"nice":false,"zero":false},"axis":null},"x2":{"datum":2022.65},"y":{"datum":-0.28,"type":"quantitative","scale":{"domain":[-0.3125,2.25],"nice":false,"zero":false},"axis":null},"y2":{"datum":-0.03}}},
   {"data":{"values":[{}]},"mark":{"type":"rect","fill":"#f2f2f2","stroke":"#999999","strokeWidth":0.5},"encoding":{"x":{"datum":2022.2,"type":"quantitative","scale":{"type":"linear","domain":[1994,2010,2020,2022.65],"range":[0,82,196,235],"nice":false,"zero":false},"axis":null},"x2":{"datum":2022.55},"y":{"datum":0.3,"type":"quantitative","scale":{"domain":[-0.3125,2.25],"nice":false,"zero":false},"axis":null},"y2":{"datum":0.75}}}
  ]},
  {"width":235,"height":37,"layer":[
   {"data":{"values":[]},"mark":{"type":"line"},"encoding":{"color":{"field":"k","type":"nominal","scale":{"domain":["GPS MP1","GPS MP2","GLO MP1","GLO MP2","GAL MP1","GAL MP2","BDS MP1","BDS MP2","QZSS MP1","QZSS MP2"],"range":["#4b4be0","#bdeef7","#e84848","#e23a3a","#3c9c3c","#5fe3b5","#a07ee0","#e050e0","#a8a040","#ecec60"]},"legend":{"orient":"none","legendX":18,"legendY":4.8,"direction":"horizontal","columns":6,"title":null,"symbolType":"stroke","symbolSize":64,"symbolStrokeWidth":1,"labelFontSize":4.1,"labelColor":"#333","labelOffset":2,"columnPadding":7,"rowPadding":1.8,"padding":0}}}},
   {"data":{"values":[{"t":"IGS Central Bureau"}]},"mark":{"type":"text","x":"width","dx":-1,"dy":0,"align":"right","fontSize":3.6,"color":"#9a9a9a"},"encoding":{"text":{"field":"t"}}},
   {"data":{"values":[{"t":"(c)"}]},"mark":{"type":"text","fontSize":7,"color":"#222","dy":12.5},"encoding":{"text":{"field":"t"}}}
  ]}
 ],"spacing":0,"bounds":"flush","resolve":{"scale":{"x":"independent","y":"independent","color":"independent","strokeDash":"independent"},"legend":{"color":"independent","strokeDash":"independent"}}}
],"spacing":0,"bounds":"flush","resolve":{"scale":{"x":"independent","y":"independent","color":"independent","strokeDash":"independent"},"legend":{"color":"independent","strokeDash":"independent"}}}
]
}
